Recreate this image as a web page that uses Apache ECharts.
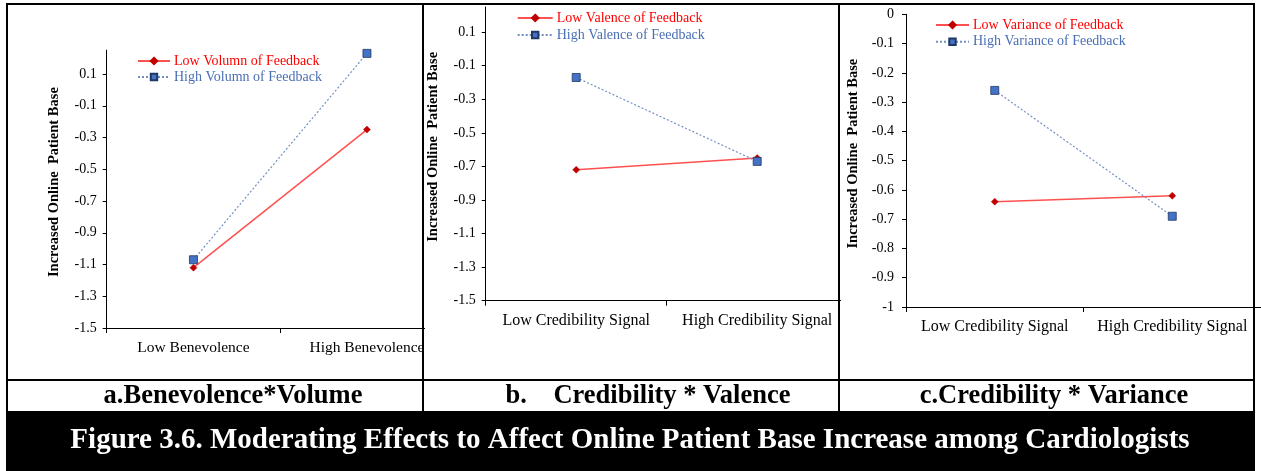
<!DOCTYPE html>
<html>
<head>
<meta charset="utf-8">
<script src="https://cdn.jsdelivr.net/npm/echarts@6/dist/echarts.min.js"></script>
<style>html,body{margin:0;padding:0;background:#fff;}#c{width:1261px;height:471px;}</style>
</head>
<body>
<div id="c"></div>
<script>
// ---- data ----
const categoriesA = ['Low Benevolence', 'High Benevolence'];
const categoriesBC = ['Low Credibility Signal', 'High Credibility Signal'];
const lowVolume = [-1.12, -0.25];
const highVolume = [-1.07, 0.23];
const lowValence = [-0.72, -0.65];
const highValence = [-0.17, -0.67];
const lowVariance = [-0.64, -0.62];
const highVariance = [-0.26, -0.69];
const yTicksAB = [-1.5, -1.3, -1.1, -0.9, -0.7, -0.5, -0.3, -0.1, 0.1];
const yTicksC = [-1, -0.9, -0.8, -0.7, -0.6, -0.5, -0.4, -0.3, -0.2, -0.1, 0];
const seriesNames = [
  ['Low Volumn of Feedback', 'High Volumn of Feedback'],
  ['Low Valence of Feedback', 'High Valence of Feedback'],
  ['Low Variance of Feedback', 'High Variance of Feedback']
];
const panelTitles = ['a.Benevolence*Volume', 'b.    Credibility * Valence', 'c.Credibility * Variance'];
const figureTitle = 'Figure 3.6. Moderating Effects to Affect Online Patient Base Increase among Cardiologists';
const yName = 'Increased Online  Patient Base';

// ---- styles ----
const FONT = '"Liberation Serif", "Times New Roman", serif';
const RED_LINE = '#ff5050';
const RED_MARK = '#c00000';
const RED_TEXT = '#ff0000';
const BLUE_LINE = '#7390c4';
const BLUE_MARK = '#4472c4';
const BLUE_TEXT = '#4a6fb5';

const grids = [
  { left: 106.7, top: 50.2, width: 347, height: 277.8 },
  { left: 485.7, top: 7, width: 362, height: 293.7 },
  { left: 906, top: 14.3, width: 359.4, height: 292.7 }
];
const yRanges = [
  { min: -1.5, max: 0.25, interval: 0.2, ticks: yTicksAB, margin: 10 },
  { min: -1.5, max: 0.25, interval: 0.2, ticks: yTicksAB, margin: 10 },
  { min: -1, max: 0, interval: 0.1, ticks: yTicksC, margin: 12 }
];
const xLabelSize = [15.5, 16, 16];
const cats = [categoriesA, categoriesBC, categoriesBC];
const lows = [lowVolume, lowValence, lowVariance];
const highs = [highVolume, highValence, highVariance];
const legendPos = [
  { left: 132, top: 49, gap: 2, w: 32 },
  { left: 511.7, top: 6, gap: 3, w: 35 },
  { left: 930, top: 13, gap: 2.7, w: 33 }
];

const axisLineStyle = { color: '#000', width: 1 };

const option = {
  animation: false,
  grid: grids.map(g => Object.assign({ containLabel: false }, g)),
  xAxis: grids.map((g, i) => ({
    type: 'category', gridIndex: i, data: cats[i], boundaryGap: true,
    axisLine: { onZero: false, lineStyle: axisLineStyle },
    axisTick: { show: true, length: 5, lineStyle: axisLineStyle },
    axisLabel: { fontFamily: FONT, fontSize: xLabelSize[i], color: '#000', margin: 12, interval: 0 },
    splitLine: { show: false }
  })),
  yAxis: grids.map((g, i) => ({
    type: 'value', gridIndex: i, min: yRanges[i].min, max: yRanges[i].max, interval: yRanges[i].interval,
    axisLine: { show: true, lineStyle: axisLineStyle },
    axisTick: { show: true, length: 4, lineStyle: axisLineStyle, customValues: yRanges[i].ticks },
    axisLabel: { fontFamily: FONT, fontSize: 14, color: '#000', margin: yRanges[i].margin,
      customValues: yRanges[i].ticks, formatter: v => String(Math.round(v * 10) / 10) },
    splitLine: { show: false },
    name: yName, nameLocation: 'middle', nameGap: 45, nameRotate: 90,
    nameTextStyle: { fontFamily: FONT, fontSize: 14.5, fontWeight: 'bold', color: '#000', padding: [0, 0, 0, 14] }
  })),
  legend: grids.map((g, i) => ({
    orient: 'vertical', left: legendPos[i].left, top: legendPos[i].top,
    itemWidth: legendPos[i].w, itemHeight: 8, itemGap: legendPos[i].gap, selectedMode: false,
    textStyle: { fontFamily: FONT, fontSize: 14, lineHeight: 14, padding: [0, 0, 0, -1] },
    data: [
      { name: seriesNames[i][0], textStyle: { color: RED_TEXT } },
      { name: seriesNames[i][1], textStyle: { color: BLUE_TEXT } }
    ]
  })),
  series: [].concat(...grids.map((g, i) => [
    {
      type: 'line', name: seriesNames[i][0], xAxisIndex: i, yAxisIndex: i, data: lows[i],
      symbol: 'diamond', symbolSize: 7,
      lineStyle: { color: RED_LINE, width: 1.5, type: 'solid' },
      itemStyle: { color: RED_MARK, borderColor: RED_MARK, borderWidth: 0.5 },
      z: 2
    },
    {
      type: 'line', name: seriesNames[i][1], xAxisIndex: i, yAxisIndex: i, data: highs[i],
      symbol: 'rect', symbolSize: 8,
      lineStyle: { color: BLUE_LINE, width: 1.2, type: [2, 2] },
      itemStyle: { color: BLUE_MARK, borderColor: '#1f3864', borderWidth: 0.8 },
      z: 3
    }
  ])),
  graphic: [
    // cover panel a's and b's overflowing axis ends
    { type: 'rect', shape: { x: 425, y: 320, width: 36, height: 16 }, style: { fill: '#fff' }, z: 100 },
    { type: 'rect', shape: { x: 841, y: 294, width: 12, height: 14 }, style: { fill: '#fff' }, z: 100 },
    // frame lines
    { type: 'line', shape: { x1: 7, y1: 4, x2: 1254, y2: 4 }, style: { stroke: '#000', lineWidth: 2 }, z: 110 },
    { type: 'line', shape: { x1: 7, y1: 3, x2: 7, y2: 471 }, style: { stroke: '#000', lineWidth: 2 }, z: 110 },
    { type: 'line', shape: { x1: 1254, y1: 3, x2: 1254, y2: 471 }, style: { stroke: '#000', lineWidth: 2 }, z: 110 },
    { type: 'line', shape: { x1: 423, y1: 4, x2: 423, y2: 411 }, style: { stroke: '#000', lineWidth: 2 }, z: 110 },
    { type: 'line', shape: { x1: 839, y1: 4, x2: 839, y2: 411 }, style: { stroke: '#000', lineWidth: 2 }, z: 110 },
    { type: 'line', shape: { x1: 7, y1: 380, x2: 1254, y2: 380 }, style: { stroke: '#000', lineWidth: 2 }, z: 110 },
    { type: 'rect', shape: { x: 6, y: 411, width: 1249, height: 60 }, style: { fill: '#000' }, z: 110 },
    // panel captions
    { type: 'text', x: 233, y: 396, style: { text: panelTitles[0], font: 'bold 26.5px ' + FONT, fill: '#000', align: 'center', verticalAlign: 'middle' }, z: 120 },
    { type: 'text', x: 648, y: 396, style: { text: panelTitles[1], font: 'bold 26.5px ' + FONT, fill: '#000', align: 'center', verticalAlign: 'middle' }, z: 120 },
    { type: 'text', x: 1054, y: 396, style: { text: panelTitles[2], font: 'bold 26.5px ' + FONT, fill: '#000', align: 'center', verticalAlign: 'middle' }, z: 120 },
    { type: 'text', x: 630, y: 441, style: { text: figureTitle, font: 'bold 29px ' + FONT, fill: '#fff', align: 'center', verticalAlign: 'middle' }, z: 120 }
  ]
};

const chart = echarts.init(document.getElementById('c'), null, { renderer: 'canvas' });
chart.setOption(option);
</script>
</body>
</html>
